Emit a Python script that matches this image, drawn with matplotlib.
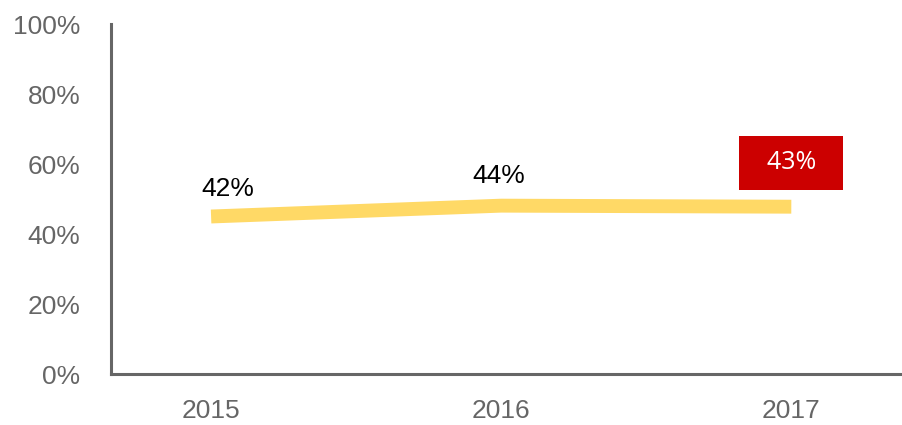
import matplotlib
matplotlib.use("Agg")
import matplotlib.pyplot as plt

years = ["2015", "2016", "2017"]
share = [0.450, 0.481, 0.478]
point_labels = ["42%", "44%", "43%"]
y_ticks = [0, 0.2, 0.4, 0.6, 0.8, 1.0]
y_tick_labels = ["0%", "20%", "40%", "60%", "80%", "100%"]

plt.rcParams['font.family'] = ['Liberation Sans', 'DejaVu Sans']
gray = '#666666'

fig = plt.figure(figsize=(9.03, 4.25), dpi=100)
ax = fig.add_axes([111/903, 1-374/425, 1-111/903, (374-24)/425])

x = list(range(len(years)))
ax.plot(x, share, color='#FFD966', lw=10, solid_capstyle='butt', zorder=3)

ax.set_xlim(-0.345, 2.385)
ax.set_ylim(0, 1.0)
ax.set_yticks(y_ticks)
ax.set_yticklabels(y_tick_labels)
ax.set_xticks(x)
ax.set_xticklabels(years)
ax.tick_params(axis='y', length=0, pad=22, labelsize=19, labelcolor=gray)
ax.tick_params(axis='x', length=0, pad=18, labelsize=19, labelcolor=gray)

for s in ['top', 'right']:
    ax.spines[s].set_visible(False)
for s in ['left', 'bottom']:
    ax.spines[s].set_color(gray)
    ax.spines[s].set_linewidth(2.2)

offsets = [(12, 20), (-2, 21), (0, 31.5)]
for i, (lab, off) in enumerate(zip(point_labels, offsets)):
    if i == len(point_labels) - 1:
        # highlighted latest value
        ax.annotate('  ' + lab + '  ', (x[i], share[i]), xytext=off, textcoords='offset points',
                    ha='center', va='center', fontsize=18, color='white',
                    family=['Open Sans', 'DejaVu Sans'],
                    bbox=dict(boxstyle='square,pad=0.58', fc='#CC0000', ec='none'))
    else:
        ax.annotate(lab, (x[i], share[i]), xytext=off, textcoords='offset points',
                    ha='center', va='center', fontsize=19, color='black')

fig.savefig('out.png', dpi=100)
